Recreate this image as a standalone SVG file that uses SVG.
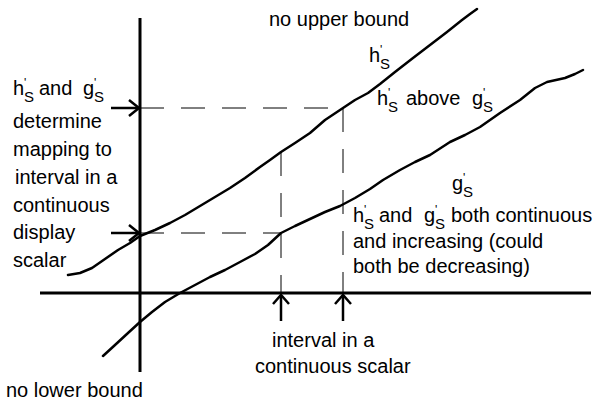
<svg xmlns="http://www.w3.org/2000/svg" width="597" height="405" viewBox="0 0 597 405">
<defs>
<style>
text{font-family:"Liberation Sans",Arial,sans-serif;font-size:20px;fill:#000}
.pr{font-size:12px}
.sub{font-size:15px}
.axis{stroke:#000;stroke-width:3;fill:none}
.curve{stroke:#000;stroke-width:2.5;fill:none;stroke-linejoin:round;stroke-linecap:round}
.dash{stroke:#000;stroke-width:1;fill:none;stroke-dasharray:24 17}
.arr{stroke:#000;stroke-width:2.5;fill:none;stroke-linejoin:miter}
</style>
</defs>
<rect width="597" height="405" fill="#fff"/>
<g id="axes">
<line class="axis" x1="140" y1="18" x2="140" y2="372"/>
<line class="axis" x1="40" y1="293" x2="591" y2="293"/>
</g>
<g id="curve-h">
<polyline class="curve" points="68,275 80,273 92,268 105,259 118,250 130,243 140,236 155,230 170,223 185,215 200,206 215,197 230,188 245,178 260,167 270,160 281,152 295,143 310,133 325,120 343,108 355,100 368,93 380,84 395,72 413,58 430,45 447,32 462,20 470,14 477,9"/>
</g>
<g id="curve-g">
<polyline class="curve" points="103,356 115,345 128,333 140,322 152,312 165,302 180,293 195,285 210,277 225,270 240,262 255,254 268,245 281,233 295,226 310,219 325,212 340,206 355,198 370,189 383,180 400,170 415,162 430,155 450,142 465,135 480,127 500,113 520,100 535,88 547,82 565,78 575,74 583,70"/>
</g>
<g id="connectors">
<line class="dash" x1="140" y1="108" x2="343" y2="108"/>
<line class="dash" x1="140" y1="233" x2="281" y2="233"/>
<line class="dash" x1="343" y1="108" x2="343" y2="293"/>
<line class="dash" x1="281" y1="152" x2="281" y2="293"/>
<line class="arr" x1="111" y1="108" x2="139" y2="108"/>
<polyline class="arr" points="129,100 139,108 129,116"/>
<line class="arr" x1="111" y1="233" x2="139" y2="233"/>
<polyline class="arr" points="129,225 139,233 129,241"/>
<line class="arr" x1="281" y1="321" x2="281" y2="295"/>
<polyline class="arr" points="273,304 281,295 289,304"/>
<line class="arr" x1="343" y1="321" x2="343" y2="295"/>
<polyline class="arr" points="335,304 343,295 351,304"/>
</g>
<g id="label-upper">
<text x="269" y="26">no upper bound</text>
</g>
<g id="label-lower">
<text x="6" y="397">no lower bound</text>
</g>
<g id="label-h">
<text x="369" y="62">h<tspan class="pr" x="380" y="54">'</tspan><tspan class="sub" x="380" y="69">S</tspan></text>
</g>
<g id="label-g">
<text x="452" y="190">g<tspan class="pr" x="463" y="182">'</tspan><tspan class="sub" x="463" y="197">S</tspan></text>
</g>
<g id="label-above">
<text x="377" y="105">h<tspan class="pr" x="388" y="97">'</tspan><tspan class="sub" x="388" y="112">S</tspan><tspan x="406" y="105">above</tspan><tspan x="472" y="105">g</tspan><tspan class="pr" x="483" y="97">'</tspan><tspan class="sub" x="483" y="112">S</tspan></text>
</g>
<g id="label-left">
<text x="13" y="95">h<tspan class="pr" x="24" y="87">'</tspan><tspan class="sub" x="24" y="102">S</tspan><tspan x="39" y="95">and</tspan><tspan x="83" y="95">g</tspan><tspan class="pr" x="94" y="87">'</tspan><tspan class="sub" x="94" y="102">S</tspan></text>
<text x="13" y="128">determine</text>
<text x="13" y="156">mapping to</text>
<text x="15" y="184">interval in a</text>
<text x="13" y="212">continuous</text>
<text x="13" y="239">display</text>
<text x="13" y="267">scalar</text>
</g>
<g id="label-right">
<text x="353" y="222">h<tspan class="pr" x="364" y="214">'</tspan><tspan class="sub" x="364" y="229">S</tspan><tspan x="379" y="222">and</tspan><tspan x="424" y="222">g</tspan><tspan class="pr" x="435" y="214">'</tspan><tspan class="sub" x="435" y="229">S</tspan><tspan x="451" y="222">both continuous</tspan></text>
<text x="353" y="248">and increasing (could</text>
<text x="353" y="273">both be decreasing)</text>
</g>
<g id="label-interval">
<text x="272" y="347">interval in a</text>
<text x="255" y="373">continuous scalar</text>
</g>
</svg>
